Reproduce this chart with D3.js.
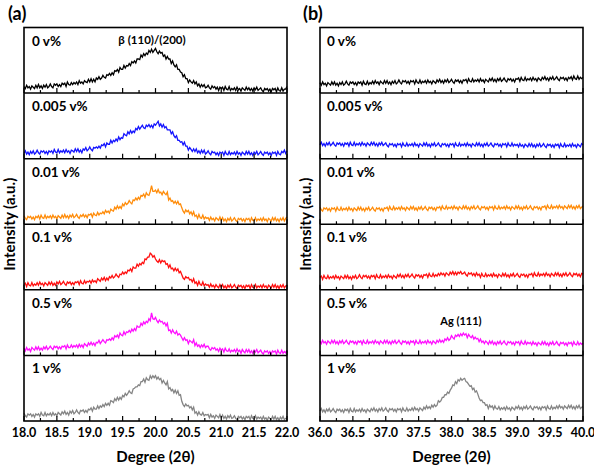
<!DOCTYPE html>
<html>
<head>
<meta charset="utf-8">
<script src="https://cdn.jsdelivr.net/npm/d3@7"></script>
<style>
  body { margin: 0; background: #fff; }
  text { font-family: Lato, "Open Sans", sans-serif; font-weight: bold; }
</style>
</head>
<body>
<svg id="vis"></svg>
<script>
// sample labels, one per stacked subplot
var labels = ["0 v%", "0.005 v%", "0.01 v%", "0.1 v%", "0.5 v%", "1 v%"];
var colors = ["#000000", "#1414ff", "#ff8c0a", "#ff1010", "#ff10ff", "#858585"];

// x ticks for both panels
var ticksA = ["18.0", "18.5", "19.0", "19.5", "20.0", "20.5", "21.0", "21.5", "22.0"];
var ticksB = ["36.0", "36.5", "37.0", "37.5", "38.0", "38.5", "39.0", "39.5", "40.0"];

// angle range and step (201 points per scan, one row below = 0.2 deg)
var rangeA = [18, 22], rangeB = [36, 40], step = 0.02;

// intensity (a.u., 0-100 of subplot height), panel (a)
var a0 = [10,7,12,8,10,6,11,9,7,12, 8,13,8,11,7,12,9,13,8,10, 14,10,8,14,12,14,10,13,10,15,
  13,15,10,17,13,12,16,13,16,14, 17,13,19,15,17,14,19,17,16,21, 17,22,17,21,17,23,21,25,21,23,
  27,24,23,28,27,30,27,31,28,34, 33,36,32,39,36,36,42,38,42,41, 45,42,48,46,49,46,52,52,51,58,
  55,60,57,61,59,65,62,67,62,65, 68,63,60,64,61,62,56,58,52,56, 52,52,45,49,43,40,43,36,36,32,
  31,25,28,22,22,16,20,17,15,19, 14,17,11,14,9,13,10,13,8,9, 12,8,6,11,8,10,6,9,4,9,
  7,9,4,10,6,5,10,4,7,5, 8,4,9,5,7,3,8,6,4,9, 5,8,4,7,3,8,5,9,4,6,
  8,4,2,7,5,7,3,6,2,7, 5,7,2,8,4,3,8,3,6,6, 10];
var a1 = [8,12,7,10,6,11,8,12,7,9, 13,9,7,12,10,12,8,11,7,12, 10,12,8,14,10,9,14,9,12,10,
  13,9,14,10,12,8,13,12,10,15, 11,15,10,13,9,15,13,17,12,14, 18,14,12,17,16,18,16,19,16,21,
  20,23,18,24,22,22,28,24,28,26, 30,27,33,29,32,31,38,36,35,41, 38,43,39,42,40,46,44,49,45,48,
  51,47,46,51,49,52,48,51,47,53, 51,54,57,50,53,48,52,47,49,44, 44,44,38,41,35,32,35,28,28,25,
  26,21,25,19,19,13,17,14,11,15, 11,15,9,12,8,13,9,13,7,9, 12,8,6,11,9,10,6,9,5,10,
  8,10,5,11,7,6,11,6,9,7, 10,6,11,7,9,5,10,8,6,11, 7,11,6,9,5,10,7,11,6,8,
  11,7,5,10,8,10,6,9,5,10, 8,10,5,11,7,6,11,9,13,8, 12];
var a2 = [13,9,7,12,10,12,8,11,7,12, 10,13,8,14,10,9,14,9,12,10, 13,9,14,10,12,8,13,11,9,14,
  10,15,10,13,9,14,11,15,10,12, 15,11,9,14,12,15,11,14,10,15, 14,16,11,17,14,13,18,14,17,16,
  19,16,21,18,20,17,23,21,20,26, 23,28,24,27,24,31,28,33,30,32, 36,33,31,37,36,40,37,41,38,44,
  43,46,41,48,45,44,50,59,50,50, 52,48,53,48,49,45,50,47,45,49, 37,40,35,36,32,35,31,35,30,31,
  25,20,17,22,19,21,16,19,14,19, 12,14,9,15,10,9,14,8,11,9, 10,6,11,7,9,5,10,8,6,11,
  6,10,5,8,4,9,6,10,5,7, 10,6,4,9,7,9,5,8,4,9, 7,9,4,10,6,5,10,5,8,6,
  9,5,10,6,8,4,9,7,5,10, 6,10,5,8,4,9,6,10,5,9, 11];
var a3 = [8,10,5,11,7,6,11,6,9,7, 11,7,12,8,10,6,11,9,7,12, 8,12,7,10,7,12,9,13,8,10,
  13,9,7,12,10,12,8,11,8,12, 11,13,8,14,10,9,14,10,13,12, 14,10,15,12,14,11,17,15,13,18,
  15,19,14,18,15,20,18,22,18,20, 24,21,19,24,23,27,24,27,25,30, 29,32,28,35,33,33,39,36,40,38,
  42,40,47,46,50,50,56,54,50,52, 47,44,42,46,41,45,43,44,39,40, 34,38,32,33,29,33,29,32,26,28,
  23,18,16,20,18,19,15,16,12,17, 10,12,7,13,8,7,12,6,9,7, 8,4,9,5,7,3,8,5,3,8,
  4,8,3,6,2,7,4,8,3,5, 8,4,2,7,5,7,3,6,2,7, 5,7,2,8,4,3,8,3,6,4,
  7,3,8,4,6,2,7,5,3,8, 4,8,3,6,2,7,4,8,3,6, 7];
var a4 = [11,7,12,8,10,6,12,10,8,13, 9,13,8,11,8,13,10,14,9,11, 14,11,9,14,12,14,10,13,10,14,
  13,15,10,16,12,12,16,12,15,13, 16,12,17,13,16,12,18,16,14,19, 16,20,16,19,15,20,19,23,18,21,
  24,21,19,24,23,25,23,27,24,30, 28,31,27,34,31,30,36,32,36,35, 38,35,40,37,41,38,45,43,43,49,
  46,51,48,52,50,56,53,65,56,55, 58,53,50,54,51,52,48,50,45,49, 38,39,34,39,35,33,37,31,33,31,
  27,23,27,23,24,18,23,21,19,24, 15,19,14,16,12,16,13,17,12,14, 14,10,8,12,10,12,8,10,6,11,
  8,10,5,11,7,6,10,5,8,6, 9,5,10,6,8,3,9,6,4,9, 5,9,4,7,3,8,5,9,4,6,
  8,4,2,7,5,7,3,6,2,7, 5,7,2,8,4,3,8,3,6,4, 8];
var a5 = [12,8,6,11,9,11,7,10,6,11, 9,11,7,13,9,8,13,8,11,9, 12,8,13,9,11,8,13,11,9,14,
  11,15,10,13,9,15,12,16,11,13, 17,13,11,16,15,17,13,16,13,18, 17,20,15,21,18,18,23,19,23,21,
  25,22,27,24,27,24,31,30,28,34, 31,36,32,36,33,39,37,42,39,42, 46,43,42,49,50,52,52,55,54,60,
  60,64,59,66,63,62,69,65,69,66, 69,64,67,63,65,58,62,58,55,60, 49,51,46,48,43,47,42,46,39,40,
  30,25,22,26,23,24,20,22,17,21, 12,14,9,14,10,9,13,8,10,9, 10,5,10,6,8,4,9,7,5,10,
  5,9,4,7,3,8,5,9,4,5, 8,4,2,7,5,7,3,6,2,7, 5,7,2,8,4,3,8,3,6,4,
  6,2,7,3,5,1,6,4,2,7, 3,7,2,5,1,6,3,7,2,4, 4];

// panel (b)
var b0 = [16,12,17,13,15,11,16,14,12,17, 13,17,12,15,11,16,13,17,12,14, 18,14,12,17,15,17,13,16,12,17,
  15,17,12,18,14,13,18,13,16,14, 18,14,19,15,17,13,18,16,14,19, 15,19,14,17,13,18,15,19,14,16,
  20,16,14,19,17,19,15,18,14,19, 17,19,14,20,16,15,20,15,18,16, 19,15,20,16,18,14,19,17,15,20,
  17,21,16,19,15,20,17,21,16,18, 21,17,15,20,18,20,16,19,15,20, 19,21,16,22,18,17,22,17,20,18,
  21,17,22,18,20,16,21,19,17,22, 19,23,18,21,17,22,19,23,18,20, 23,19,17,22,20,22,18,21,17,22,
  21,23,18,24,20,19,24,19,22,20, 23,19,24,20,22,18,23,21,19,24, 21,25,20,23,19,24,21,25,20,22,
  25,21,19,24,22,24,20,23,19,24, 22,25,20,26,22,21,26,21,24,22, 24];
var b1 = [21,25,20,23,19,24,21,25,20,22, 25,21,19,24,22,24,20,23,19,24, 22,24,19,25,21,20,25,20,23,21,
  24,20,25,21,23,19,24,22,20,25, 21,25,20,23,19,24,21,25,20,22, 24,20,18,23,21,23,19,22,18,23,
  21,23,18,24,20,19,24,19,22,20, 23,19,24,20,22,18,23,21,19,24, 20,24,19,22,18,23,20,24,19,21,
  24,20,18,23,21,23,19,22,18,23, 21,23,18,24,20,19,24,19,22,20, 23,19,24,20,22,18,23,21,19,24,
  20,24,19,22,18,23,20,24,19,21, 24,20,18,23,21,23,19,22,18,23, 21,23,18,24,20,19,24,19,22,20,
  22,18,23,19,21,17,22,20,18,23, 19,23,18,21,17,22,19,23,18,20, 23,19,17,22,20,22,18,21,17,22,
  20,22,17,23,19,18,23,18,21,19, 22,18,23,19,21,17,22,20,18,23, 21];
var b2 = [26,22,20,25,23,25,21,24,20,25, 23,25,20,26,22,21,26,21,24,22, 25,21,26,22,24,20,25,23,21,26,
  22,26,21,24,20,25,22,26,21,23, 26,22,20,25,23,25,21,24,20,25, 24,26,21,27,23,22,27,22,25,23,
  26,22,27,23,25,21,26,24,22,27, 23,27,22,25,21,26,23,27,22,24, 27,23,21,26,24,26,22,25,21,26,
  25,27,22,28,24,23,28,23,26,24, 27,23,28,24,26,22,27,25,23,28, 24,28,23,26,22,27,24,28,23,25,
  28,24,22,27,25,27,23,26,22,27, 25,27,22,28,24,23,28,23,26,24, 27,23,28,24,26,22,27,25,23,28,
  24,28,23,26,22,27,24,28,23,25, 28,24,22,27,25,27,23,26,22,27, 26,28,23,29,25,24,29,24,27,25,
  28,24,29,25,27,23,28,26,24,29, 25,29,24,27,23,28,25,29,24,26, 28];
var b3 = [19,21,16,22,18,17,22,17,20,18, 21,17,22,18,20,16,21,19,17,22, 18,22,17,20,16,21,18,22,17,19,
  23,19,17,22,20,22,18,21,17,22, 20,22,17,23,19,18,23,18,21,19, 22,18,23,19,21,17,22,20,18,23,
  20,24,19,22,18,23,20,24,19,21, 24,20,18,23,21,23,19,22,18,23, 22,24,19,25,21,20,25,20,23,21,
  25,22,26,23,25,21,26,24,22,27, 24,28,23,27,23,27,25,28,24,25, 27,23,21,26,24,26,22,25,21,26,
  22,24,19,25,21,20,25,20,23,21, 24,20,25,21,23,19,24,22,20,25, 21,25,20,23,19,24,21,25,20,22,
  25,21,19,24,22,24,20,23,19,24, 23,25,20,26,22,21,26,21,24,22, 25,21,26,22,24,20,25,23,21,26,
  22,26,21,24,20,25,22,26,21,23, 26,22,20,25,23,25,21,24,20,25, 24];
var b4 = [22,18,23,19,21,17,22,20,18,23, 19,23,18,21,17,22,19,23,18,20, 23,19,17,22,20,22,18,21,17,22,
  20,22,17,23,19,18,23,18,21,19, 22,18,23,19,21,17,22,20,18,23, 19,23,18,21,17,22,19,23,18,20,
  23,19,17,22,20,22,18,21,17,22, 20,22,17,23,19,18,23,18,21,19, 22,18,23,19,21,17,22,20,18,23,
  20,24,20,23,20,25,23,27,23,25, 30,27,25,31,29,32,29,33,30,34, 31,33,27,32,29,27,30,25,28,25,
  26,21,25,20,22,18,22,20,17,22, 18,22,17,20,16,21,18,22,17,19, 22,18,16,21,19,21,17,20,16,21,
  19,21,16,22,18,17,22,17,20,18, 20,16,21,17,19,15,20,18,16,21, 17,21,16,19,15,20,17,21,16,18,
  21,17,15,20,18,20,16,19,15,20, 18,20,15,21,17,16,21,16,19,17, 19];
var b5 = [15,19,14,17,13,18,15,19,14,16, 19,15,13,18,16,18,14,17,13,18, 16,18,13,19,15,14,19,14,17,15,
  18,14,19,15,17,13,18,16,14,19, 16,20,15,18,14,19,16,20,15,17, 20,16,14,19,17,19,15,18,14,19,
  17,19,14,20,16,15,20,15,18,16, 20,16,21,17,19,15,20,18,16,21, 18,23,19,22,19,24,21,25,22,24,
  31,29,31,36,36,40,40,44,42,47, 50,55,54,60,57,63,61,65,62,64, 65,60,59,56,53,54,48,50,44,46,
  41,35,31,32,28,28,24,25,19,24, 21,23,18,23,19,18,22,17,20,18, 21,17,22,18,20,16,21,19,17,22,
  19,23,18,21,17,22,19,23,18,20, 23,19,17,22,20,22,18,21,17,22, 20,22,17,23,19,18,23,18,21,19,
  23,19,24,20,22,18,23,21,19,24, 20,24,19,22,18,23,20,24,19,21, 22];

var seriesA = [a0, a1, a2, a3, a4, a5];
var seriesB = [b0, b1, b2, b3, b4, b5];

(function() {
  var width = 594, height = 467;

  var chart = d3.select("#vis")
    .attr("width", width)
    .attr("height", height);

  //frame of the stacked plots (same for both columns)
  var topY = 27.5, bottomY = 421;
  var rowH = (bottomY - topY) / labels.length;

  drawPanel(seriesA, rangeA, ticksA, 24, 287, "(a)", 8, 8);
  drawPanel(seriesB, rangeB, ticksB, 320, 583, "(b)", 303, 7);

  // peak annotations
  chart.append("text").attr("x", 152).attr("y", 44).attr("text-anchor", "middle")
    .attr("font-size", 11.5).text("β (110)/(200)");
  chart.append("text").attr("x", 461).attr("y", 325).attr("text-anchor", "middle")
    .attr("font-size", 11).text("Ag (111)");

  /**
   * Draws one column of six stacked scans.
   */
  function drawPanel(series, range, ticks, left, right, tag, tagX, labelPad) {

    var g = chart.append("g");

    var x = d3.scaleLinear().domain(range).range([left, right]);
    var minor = d3.range(range[0], range[1] + 0.001, 0.25);

    series.forEach(function(vals, k) {
      var y0 = topY + k * rowH, y1 = y0 + rowH;
      var y = d3.scaleLinear().domain([0, 100]).range([y1, y0]);

      var line = d3.line()
        .x(function(d, i) { return x(range[0] + i * step); })
        .y(function(d) { return y(d); });

      g.append("path")
        .datum(vals)
        .attr("fill", "none")
        .attr("stroke", colors[k])
        .attr("stroke-width", 1.3)
        .attr("d", line);

      // inward ticks along the bottom of every subplot
      g.selectAll(null)
        .data(minor)
        .enter()
        .append("line")
        .attr("x1", function(d) { return x(d); })
        .attr("x2", function(d) { return x(d); })
        .attr("y1", y1)
        .attr("y2", function(d, i) { return y1 - (i % 2 == 0 ? 5 : 3); })
        .attr("stroke", "#000")
        .attr("stroke-width", 1.2);

      if (k > 0) {
        g.append("line")
          .attr("x1", left).attr("x2", right)
          .attr("y1", y0).attr("y2", y0)
          .attr("stroke", "#000").attr("stroke-width", 1.5);
      }

      g.append("text")
        .attr("x", left + labelPad)
        .attr("y", y0 + 18)
        .attr("font-size", 13.5)
        .text(labels[k]);
    });

    g.append("rect")
      .attr("x", left).attr("y", topY)
      .attr("width", right - left).attr("height", bottomY - topY)
      .attr("fill", "none").attr("stroke", "#000").attr("stroke-width", 1.6);

    // tick labels
    g.selectAll(null)
      .data(ticks)
      .enter()
      .append("text")
      .attr("x", function(d) { return x(+d); })
      .attr("y", bottomY + 16)
      .attr("text-anchor", "middle")
      .attr("font-size", 12.5)
      .text(function(d) { return d; });

    g.append("text")
      .attr("x", (left + right) / 2)
      .attr("y", bottomY + 41)
      .attr("text-anchor", "middle")
      .attr("font-size", 15)
      .text("Degree (2θ)");

    g.append("text")
      .attr("transform", "translate(" + (left - 9) + "," + (topY + bottomY) / 2 + ") rotate(-90)")
      .attr("text-anchor", "middle")
      .attr("font-size", 15)
      .text("Intensity (a.u.)");

    g.append("text")
      .attr("x", tagX)
      .attr("y", 20)
      .attr("font-size", 18)
      .text(tag);
  }
}());
</script>
</body>
</html>
